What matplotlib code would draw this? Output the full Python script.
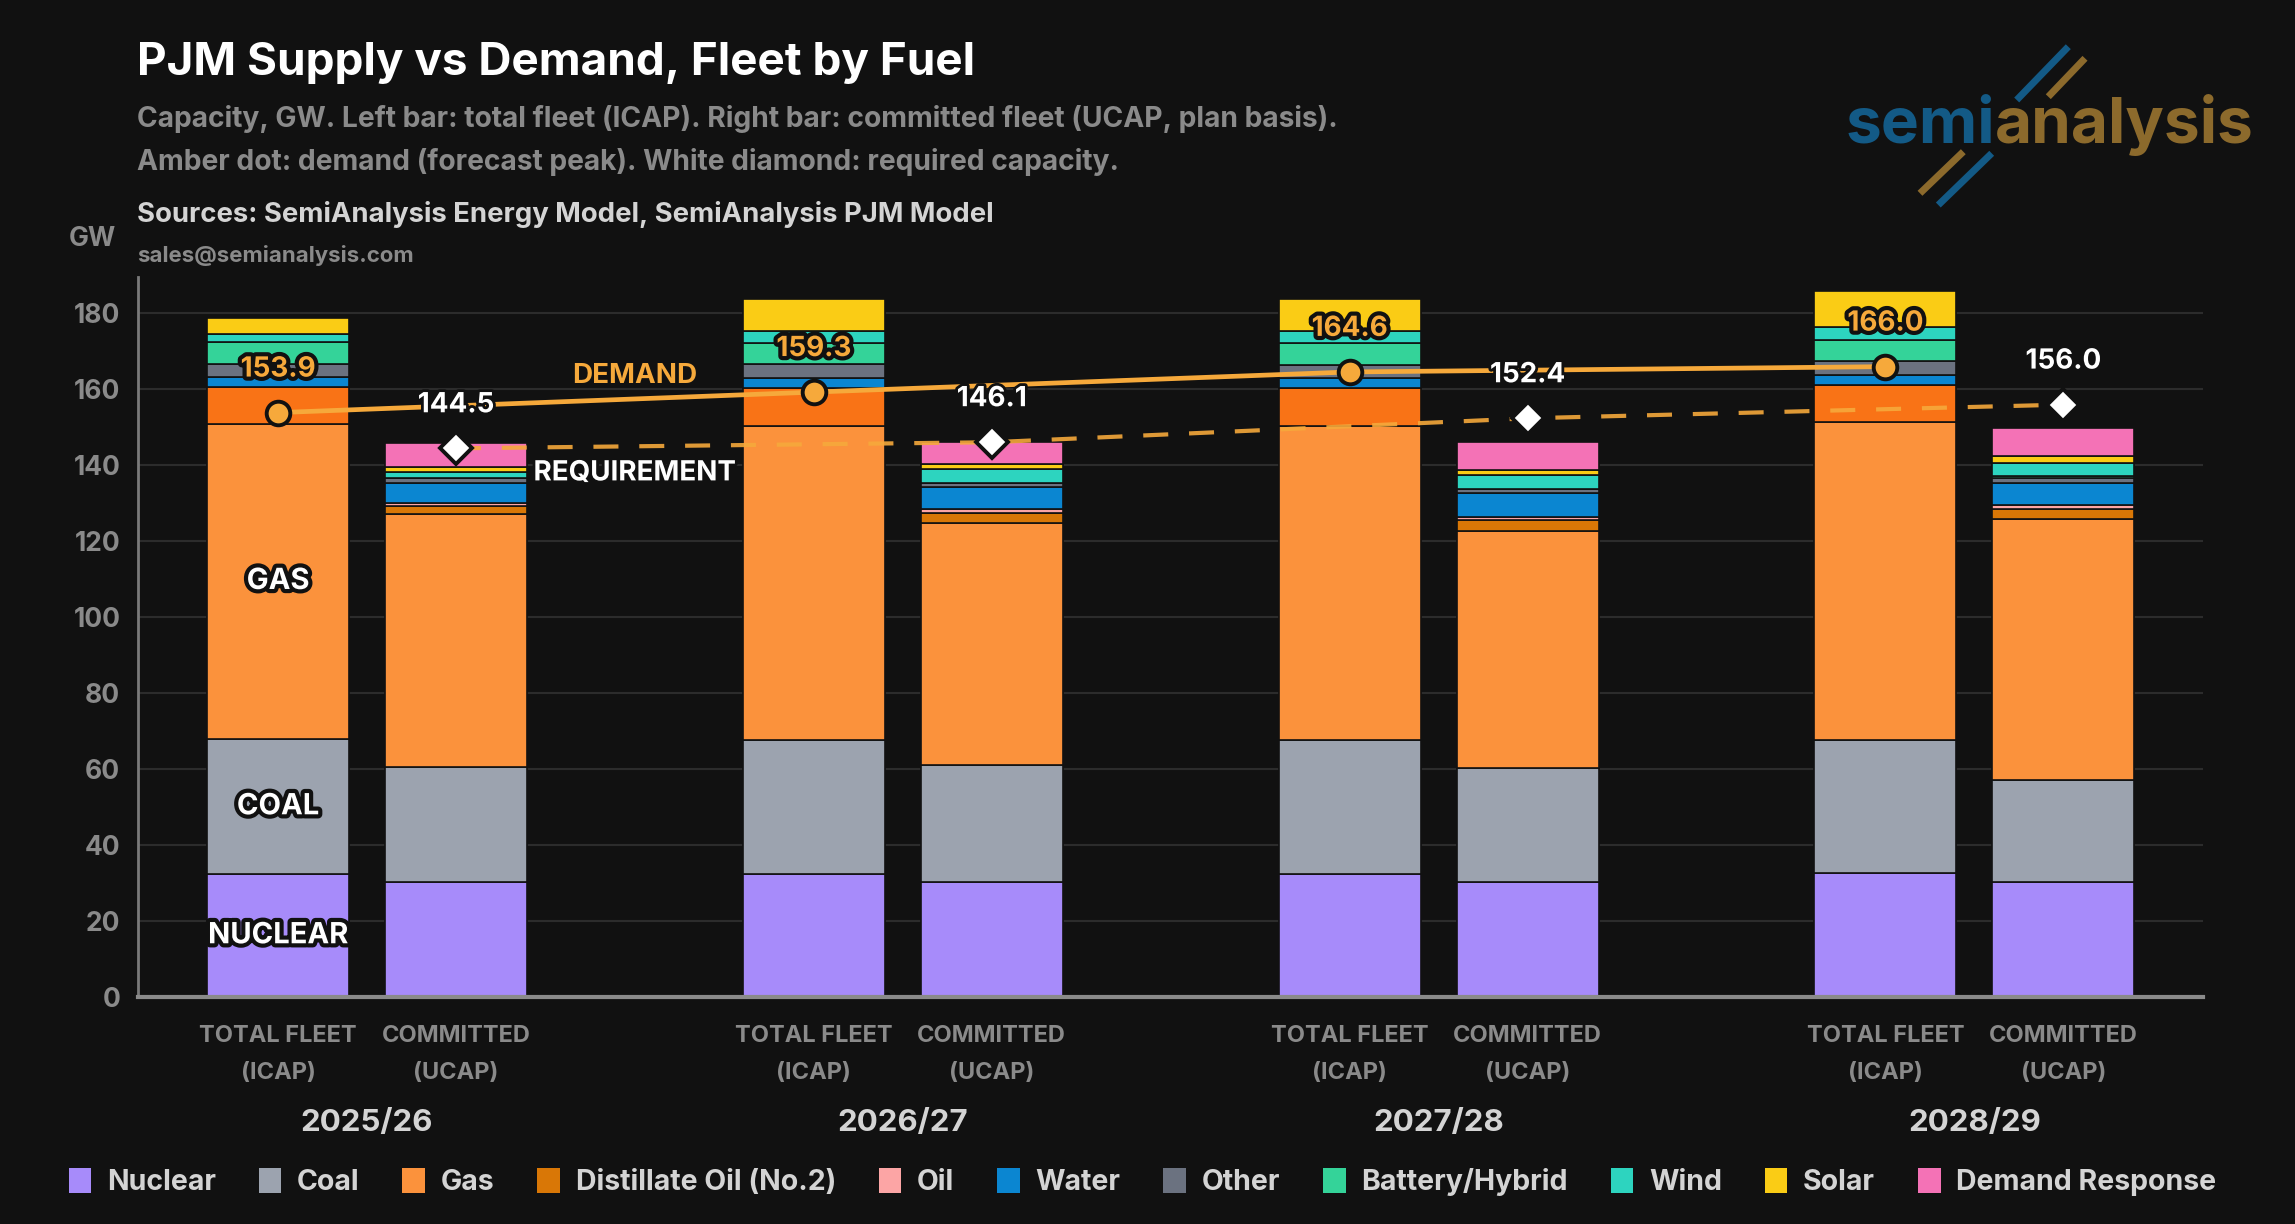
import numpy as np
import matplotlib.pyplot as plt
import matplotlib.patheffects as pe
from matplotlib.patches import Patch
from matplotlib.lines import Line2D

plt.rcParams['font.family'] = ['Inter', 'DejaVu Sans']
plt.rcParams['font.weight'] = 'bold'

years = ['2025/26', '2026/27', '2027/28', '2028/29']
fuels = ['Nuclear', 'Coal', 'Gas', 'Distillate Oil (No.2)', 'Oil', 'Water', 'Other',
         'Battery/Hybrid', 'Wind', 'Solar', 'Demand Response']
colors = ['#a78bfa', '#9ca3af', '#fb923c', '#d97706', '#fca5a5', '#0b86d1', '#6b7280',
          '#34d399', '#2dd4bf', '#facc15', '#f472b6']

# left bar: total fleet (ICAP), GW
total_nuclear = [32.4, 32.4, 32.4, 32.6]
total_coal = [35.5, 35.2, 35.2, 35.0]
total_gas = [83.1, 82.8, 82.9, 83.7]
total_oil = [9.7, 10.0, 10.0, 9.9]
total_water = [2.6, 2.5, 2.4, 2.5]
total_other = [3.5, 3.7, 3.6, 3.7]
total_battery = [5.6, 5.5, 5.6, 5.5]
total_wind = [2.3, 3.4, 3.4, 3.6]
total_solar = [4.1, 8.4, 8.4, 9.4]

# right bar: committed fleet (UCAP, plan basis), GW
com_nuclear = [30.4, 30.4, 30.4, 30.4]
com_coal = [30.1, 30.8, 29.9, 26.9]
com_gas = [66.6, 63.7, 62.5, 68.5]
com_distillate = [2.3, 2.7, 2.8, 2.7]
com_oil = [0.6, 1.0, 0.9, 1.0]
com_water = [5.3, 5.6, 6.2, 6.0]
com_other = [1.3, 1.1, 1.0, 1.2]
com_battery = [0.0, 0.0, 0.0, 0.5]
com_wind = [1.6, 3.7, 3.7, 3.4]
com_solar = [1.3, 1.5, 1.3, 2.0]
com_dr = [6.4, 5.6, 7.4, 7.2]

demand = [153.9, 159.3, 164.6, 166.0]
requirement = [144.5, 146.1, 152.4, 156.0]

total_stack = [total_nuclear, total_coal, total_gas, total_oil, total_water,
               total_other, total_battery, total_wind, total_solar]
total_colors = ['#a78bfa', '#9ca3af', '#fb923c', '#f97316', '#0b86d1',
                '#6b7280', '#34d399', '#2dd4bf', '#facc15']
com_stack = [com_nuclear, com_coal, com_gas, com_distillate, com_oil, com_water,
             com_other, com_battery, com_wind, com_solar, com_dr]

bg = '#111111'
amber = '#f6a93b'
grey = '#8a8a8a'
light = '#d4d4d4'

x = np.arange(len(years))
off = 0.166
w = 0.265

fig = plt.figure(figsize=(22.95, 12.24), dpi=100, facecolor=bg)
ax = fig.add_axes([0.0603, 0.1852, 0.8996, 0.5882])
ax.set_facecolor(bg)

bottom = np.zeros(len(years))
for vals, c in zip(total_stack, total_colors):
    ax.bar(x - off, vals, w, bottom=bottom, color=c, edgecolor=bg, linewidth=1.2, zorder=2)
    bottom += vals

bottom = np.zeros(len(years))
for vals, c in zip(com_stack, colors):
    ax.bar(x + off, vals, w, bottom=bottom, color=c, edgecolor=bg, linewidth=1.2, zorder=2)
    bottom += vals

# demand and requirement lines
ax.plot(x - off, demand, color=amber, lw=3.4, marker='o', ms=17, mfc=amber,
        mec=bg, mew=2.8, zorder=5)
ax.plot(x + off, requirement, color=amber, lw=3, ls=(0, (6, 5)), alpha=0.9, zorder=4)
ax.plot(x + off, requirement, ls='none', marker='D', ms=16, mfc='white',
        mec=bg, mew=2.8, zorder=6)

for i in range(len(years)):
    ax.annotate(f'{demand[i]:.1f}', (x[i] - off, demand[i]), xytext=(0, 31),
                textcoords='offset points', ha='center', va='center', color=amber,
                fontsize=20, fontweight='bold', zorder=7,
                path_effects=[pe.withStroke(linewidth=6, foreground=bg)])
    ax.annotate(f'{requirement[i]:.1f}', (x[i] + off, requirement[i]), xytext=(0, 31),
                textcoords='offset points', ha='center', va='center', color='white',
                fontsize=20, fontweight='bold', zorder=7,
                path_effects=[pe.withStroke(linewidth=4, foreground=bg)])

# line names sit midway between the first two seasons
ax.text((x[0] + x[1]) / 2, 163.6, 'DEMAND', color=amber, fontsize=20, ha='center',
        va='center', zorder=7)
ax.text((x[0] + x[1]) / 2, 137.9, 'REQUIREMENT', color='white', fontsize=20, ha='center',
        va='center', zorder=7, path_effects=[pe.withStroke(linewidth=4, foreground=bg)])

# fuel names inside the first total bar
mids = np.cumsum([total_nuclear[0], total_coal[0], total_gas[0]]) - \
    np.array([total_nuclear[0], total_coal[0], total_gas[0]]) / 2
for name, m in zip(['NUCLEAR', 'COAL', 'GAS'], mids):
    ax.text(x[0] - off, m, name, color='white', fontsize=21, ha='center', va='center',
            zorder=7, path_effects=[pe.withStroke(linewidth=6, foreground=bg)])

ax.set_xlim(-0.4267, 3.4267)
ax.set_ylim(0, 189.5)
ax.set_yticks(range(0, 181, 20))
ax.yaxis.grid(True, color='#2c2c2c', lw=1.5)
ax.set_axisbelow(True)
for s in ['top', 'right']:
    ax.spines[s].set_visible(False)
ax.spines['left'].set_color('#7a7a7a')
ax.spines['left'].set_linewidth(2)
ax.spines['bottom'].set_color(grey)
ax.spines['bottom'].set_linewidth(3)
ax.tick_params(axis='y', length=0, pad=13, labelcolor=grey, labelsize=19)

xt = np.concatenate([x - off, x + off])
xl = ['TOTAL FLEET\n(ICAP)'] * len(years) + ['COMMITTED\n(UCAP)'] * len(years)
ax.set_xticks(xt)
ax.set_xticklabels(xl, linespacing=1.9)
ax.tick_params(axis='x', length=0, pad=20, labelcolor=grey, labelsize=17)
for xi, yr in zip(x, years):
    ax.text(xi, -0.174, yr, transform=ax.get_xaxis_transform(), ha='center',
            va='center', fontsize=22.5, color=light)

fig.text(92 / 2295, 1 - 238.6 / 1224, 'GW', ha='center', va='center', color=grey, fontsize=19)

# titles
fig.text(0.0597, 0.9387, 'PJM Supply vs Demand, Fleet by Fuel', color='white',
         fontsize=33, va='baseline')
fig.text(0.0597, 0.8962, 'Capacity, GW. Left bar: total fleet (ICAP). Right bar: committed fleet (UCAP, plan basis).',
         color=grey, fontsize=20.3, va='baseline')
fig.text(0.0597, 0.8611, 'Amber dot: demand (forecast peak). White diamond: required capacity.',
         color=grey, fontsize=20.3, va='baseline')
fig.text(0.0597, 0.8189, 'Sources: SemiAnalysis Energy Model, SemiAnalysis PJM Model',
         color=light, fontsize=19.8, va='baseline')
fig.text(0.0597, 0.7862, 'sales@semianalysis.com', color=grey, fontsize=16, va='baseline')

# logo
blue = '#135a86'
gold = '#8c6a2c'
fig.text(0.8693, 0.8832, 'semi', color=blue, fontsize=46, ha='right', va='baseline')
fig.text(0.8693, 0.8832, 'analysis', color=gold, fontsize=46, ha='left', va='baseline')
for (x0, y0, x1, y1), c in [((2016.7, 100, 2068.3, 46.7), blue),
                            ((2048.3, 96.7, 2085, 58.3), gold),
                            ((1920, 193.3, 1963.3, 151.7), gold),
                            ((1938.3, 205, 1991.7, 153.3), blue)]:
    fig.add_artist(Line2D([x0 / 2295, x1 / 2295], [1 - y0 / 1224, 1 - y1 / 1224],
                          transform=fig.transFigure, color=c, lw=5, solid_capstyle='butt'))

handles = [Patch(facecolor=c) for c in colors]
fig.legend(handles, fuels, loc='center', bbox_to_anchor=(0.4978, 0.0345), ncol=len(fuels),
           frameon=False, fontsize=20.5, labelcolor=light, handlelength=0.8,
           handleheight=1.0, columnspacing=1.5, handletextpad=0.55)

fig.savefig('out.png', dpi=100, facecolor=bg)
